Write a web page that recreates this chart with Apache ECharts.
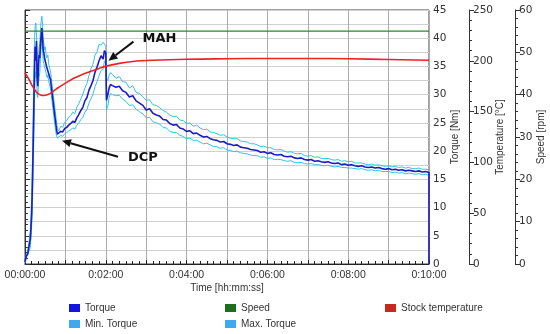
<!DOCTYPE html>
<html>
<head>
<meta charset="utf-8">
<script src="https://cdn.jsdelivr.net/npm/echarts@6/dist/echarts.min.js"></script>
<style>
html,body{margin:0;padding:0;background:#fff;}
#c{width:550px;height:334px;}
</style>
</head>
<body>
<div id="c"></div>
<script>
// ---- data (time in seconds) ----
const timeSec = [0,2,4,6,8,10,11,12,13,14,15,16,17,18,19,20,21,22,23,24,25,26,27,28,29,30,31,32,33,34,35,36,37,38,39,40,42,44,46,48,
50,53,56,59,62,65,68,71,74,77,80,83,86,89,92,95,98,101,104,107,110,113,116,118,120,
121,123,125,127,
130,135,140,145,150,155,160,165,170,175,
180,185,190,195,200,205,210,215,220,225,
230,235,240,245,250,255,260,265,270,275,
280,285,290,295,300,305,310,315,320,325,
330,335,340,345,350,355,360,365,370,375,
380,385,390,395,400,405,410,415,420,425,
430,435,440,445,450,455,460,465,470,475,
480,485,490,495,500,505,510,515,520,525,
530,535,540,545,550,555,560,565,570,575,
580,585,590,595,600,600];

const torque = [0.4,1.4,1.8,2.0,4.5,9,14,20,27,34,38.5,36,39.5,33,31.5,35,37,36.5,39,40.5,41.8,40,38,37.4,36.5,36.8,35.5,35,34.7,35.2,33.8,34,33,32.6,31.5,30.5,28.5,26.5,24.6,23.0,
23.1,23.5,23.4,24.0,24.2,24.6,24.9,25.3,25.1,25.9,26.5,27.2,27.8,28.9,29.5,30.8,31.6,32.5,34.0,34.9,36.0,36.9,36.3,37.8,37.4,
29.0,30.0,31.2,31.8,
31.6,31.3,31.5,30.7,30.4,29.6,29.8,28.9,28.5,28.1,
27.3,27.5,26.7,26.4,26.2,25.6,25.5,24.9,24.6,24.7,
24.1,23.9,23.5,23.6,23.1,23.2,22.8,22.5,22.6,22.2,
22.0,21.9,21.6,21.7,21.3,21.2,21.0,21.1,20.7,20.6,
20.5,20.3,20.2,20.1,19.8,19.9,19.6,19.7,19.4,19.3,
19.4,19.1,19.0,19.1,18.8,18.7,18.8,18.5,18.4,18.5,
18.2,18.3,18.1,18.0,18.1,17.9,17.8,17.9,17.6,17.7,
17.5,17.6,17.4,17.3,17.4,17.2,17.1,17.2,17.0,17.1,
16.9,16.8,16.9,16.7,16.8,16.6,16.7,16.5,16.6,16.5,
16.4,16.5,16.3,16.4,16.2,0];

const maxTorque = [0.6,1.7,2.1,2.4,6,12,18,25,33,39,42,42.7,41,37,34,36,38.5,39,41.5,43,43.9,42.5,40,39,38,38.5,37.5,36.5,36.2,37,35.5,35.8,34.5,34,33,32,30,28,26,24,
23.6,24.4,24.2,25.1,25.4,26.0,26.3,26.9,26.6,27.8,28.4,29.3,30.1,31.2,32.0,33.4,34.6,35.4,37.0,37.6,38.9,38.8,39.3,39.4,38.6,
33.0,32.5,33.5,33.9,
33.6,32.9,33.2,32.3,32.2,31.2,31.6,30.4,30.2,29.6,
29.0,29.1,28.2,28.1,27.7,27.2,26.9,26.4,26.1,26.2,
25.5,25.4,24.9,25.0,24.4,24.6,24.1,23.8,23.9,23.4,
23.3,23.1,22.8,22.9,22.5,22.3,22.2,22.2,21.8,21.7,
21.6,21.3,21.3,21.1,20.8,20.9,20.6,20.6,20.3,20.2,
20.3,20.0,19.8,19.9,19.6,19.5,19.6,19.2,19.1,19.2,
18.9,19.0,18.7,18.7,18.7,18.5,18.4,18.5,18.2,18.3,
18.1,18.2,17.9,17.9,17.9,17.7,17.6,17.7,17.5,17.6,
17.4,17.3,17.4,17.2,17.3,17.1,17.2,17.0,17.1,16.9,
16.9,17.0,16.8,16.8,16.7,16.7];

const minTorque = [0.2,1.2,1.6,1.8,3,7,11,16,22,28,34,33,36,30,29.5,32,33,34,36.5,38.5,40,38,36,35.5,35,35,34,33.5,33,33.5,32.5,32.5,31.5,31,30,29,27,25,23.2,22.3,
22.4,22.8,22.6,23.1,23.3,23.6,23.8,24.1,23.9,24.6,25.0,25.6,26.0,26.9,27.4,28.5,29.3,30.1,31.4,32.3,33.4,34.3,34.5,36.0,35.4,
27.3,28.0,29.5,30.2,
30.0,29.8,29.9,29.2,28.8,28.1,28.2,27.4,27.0,26.6,
25.9,26.0,25.2,25.0,24.8,24.2,24.1,23.5,23.3,23.3,
22.8,22.6,22.2,22.3,21.9,21.9,21.6,21.3,21.4,21.1,
20.8,20.8,20.5,20.6,20.2,20.1,19.9,20.0,19.7,19.6,
19.5,19.3,19.2,19.2,18.9,19.0,18.7,18.8,18.5,18.5,
18.5,18.3,18.2,18.3,18.0,18.0,18.0,17.8,17.7,17.8,
17.6,17.6,17.5,17.4,17.5,17.3,17.2,17.3,17.1,17.1,
17.0,17.0,16.9,16.8,16.9,16.7,16.6,16.7,16.5,16.6,
16.4,16.4,16.4,16.2,16.3,16.1,16.2,16.0,16.1,16.0,
15.9,16.0,15.8,15.9,15.7,15.7];

const tempTime = [0,4,8,12,16,20,24,28,33,40,48,60,73,85,97,110,122,140,160,190,240,300,360,420,480,540,600];
const temperature = [188,184,179,174,170,167.5,166.2,165.8,166.5,169,173,178,183,186.5,189.4,192.5,195,197.5,199.3,200.5,201.5,202,202.3,202.3,202,201.3,200.5];

const speedTime = [0,600];
const speed = [55,55];

const torqueTicks = [0,45,5];
const tempTicks = [0,250,50];
const speedTicks = [0,60,10];

const annotations = [
  {text:'MAH', at:[118,37.8]},
  {text:'DCP', at:[49,22.9]}
];

// ---- chart ----
const zip = (t, v) => t.map((x, i) => [x, v[i]]);
const pad = n => (n < 10 ? '0' : '') + n;
const FONT = 'DejaVu Sans';
const chart = echarts.init(document.getElementById('c'), null, {renderer:'canvas'});

const axisCommon = {
  type:'value', position:'right',
  axisLine:{show:true, lineStyle:{color:'#333', width:1}},
  axisTick:{show:true, length:5, lineStyle:{color:'#333'}},
  minorTick:{show:true, splitNumber:5, length:3, lineStyle:{color:'#333'}},
  axisLabel:{color:'#333', fontFamily:FONT, fontSize:10.5, margin:4},
  splitLine:{show:false},
  nameLocation:'middle', nameRotate:90, nameMoveOverlap:false,
  nameTextStyle:{color:'#333', fontFamily:'Liberation Sans', fontSize:10}
};

const option = {
  backgroundColor:'#fff',
  animation:false,
  grid:{left:25, right:121, top:10, bottom:70, show:true, borderColor:'#444', borderWidth:1,
    containLabel:false, outerBoundsMode:'none'},
  xAxis:{
    type:'value', min:0, max:600, interval:60,
    axisLine:{show:true, lineStyle:{color:'#222'}},
    axisTick:{show:true, inside:true, length:4, lineStyle:{color:'#222'}},
    minorTick:{show:true, splitNumber:6, length:3, lineStyle:{color:'#222'}},
    splitLine:{show:true, lineStyle:{color:'#ababab', width:1}},
    axisLabel:{color:'#333', fontFamily:'Liberation Sans', fontSize:10.5, margin:6, showMaxLabel:true, showMinLabel:true,
      formatter: v => v === 0 ? '00:00:00' : (v % 120 === 0 ? '0:' + pad(v/60) + ':00' : '')},
    name:'Time [hh:mm:ss]', nameLocation:'middle', nameGap:19, nameMoveOverlap:false,
    nameTextStyle:{color:'#333', fontFamily:'Liberation Sans', fontSize:10}
  },
  yAxis:[
    Object.assign({}, axisCommon, {min:torqueTicks[0], max:torqueTicks[1], interval:torqueTicks[2], offset:0,
      name:'Torque [Nm]', nameGap:21}),
    Object.assign({}, axisCommon, {min:tempTicks[0], max:tempTicks[1], interval:tempTicks[2], offset:40,
      name:'Temperature [°C]', nameGap:26}),
    Object.assign({}, axisCommon, {min:speedTicks[0], max:speedTicks[1], interval:speedTicks[2], offset:86,
      name:'Speed [rpm]', nameGap:21}),
    {type:'value', min:0, max:45, interval:2.5, position:'left',
      axisLine:{show:false}, axisTick:{show:false}, axisLabel:{show:false},
      splitLine:{show:true, lineStyle:{color:'#d0d0d0', width:1}}}
  ],
  legend:[
    {left:69, top:302, orient:'vertical', padding:0, itemGap:4, itemWidth:11, itemHeight:8, icon:'rect',
      textStyle:{color:'#333', fontFamily:'Liberation Sans', fontSize:10, lineHeight:12},
      data:[{name:'Torque', itemStyle:{color:'#1515e0'}}, {name:'Min. Torque', itemStyle:{color:'#40a8ee'}}]},
    {left:225, top:302, orient:'vertical', padding:0, itemGap:4, itemWidth:11, itemHeight:8, icon:'rect',
      textStyle:{color:'#333', fontFamily:'Liberation Sans', fontSize:10, lineHeight:12},
      data:[{name:'Speed', itemStyle:{color:'#1d6e1d'}}, {name:'Max. Torque', itemStyle:{color:'#40a8ee'}}]},
    {left:385, top:302, orient:'vertical', padding:0, itemGap:4, itemWidth:11, itemHeight:8, icon:'rect',
      textStyle:{color:'#333', fontFamily:'Liberation Sans', fontSize:10, lineHeight:12},
      data:[{name:'Stock temperature', itemStyle:{color:'#c62a1e'}}]}
  ],
  series:[
    {name:'Min. Torque', type:'line', yAxisIndex:0, showSymbol:false, symbol:'none',
      lineStyle:{color:'#30c4e6', width:1}, itemStyle:{color:'#30c4e6'}, data:zip(timeSec, minTorque), z:2},
    {name:'Max. Torque', type:'line', yAxisIndex:0, showSymbol:false, symbol:'none',
      lineStyle:{color:'#30c4e6', width:1}, itemStyle:{color:'#30c4e6'}, data:zip(timeSec, maxTorque), z:2},
    {name:'Torque', type:'line', yAxisIndex:0, showSymbol:false, symbol:'none',
      lineStyle:{color:'#1c1cc6', width:1.6}, itemStyle:{color:'#1c1cc6'}, data:zip(timeSec, torque), z:3},
    {name:'Stock temperature', type:'line', yAxisIndex:1, showSymbol:false, symbol:'none', smooth:0.4,
      lineStyle:{color:'#ee2222', width:1.6}, itemStyle:{color:'#ee2222'}, data:zip(tempTime, temperature), z:4},
    {name:'Speed', type:'line', yAxisIndex:2, showSymbol:false, symbol:'none',
      lineStyle:{color:'#258a25', width:1.3}, itemStyle:{color:'#258a25'}, data:zip(speedTime, speed), z:5}
  ]
};
chart.setOption(option);

// ---- annotations anchored to data points ----
function arrow(tail, tip){
  const dx = tip[0]-tail[0], dy = tip[1]-tail[1];
  const L = Math.sqrt(dx*dx+dy*dy), ux = dx/L, uy = dy/L;
  const hl = 9, hw = 4;
  const bx = tip[0]-ux*hl, by = tip[1]-uy*hl;
  return [
    {type:'line', shape:{x1:tail[0], y1:tail[1], x2:bx, y2:by}, style:{stroke:'#111', lineWidth:2}, z:100},
    {type:'polygon', shape:{points:[tip, [bx-uy*hw, by+ux*hw], [bx+uy*hw, by-ux*hw]]}, style:{fill:'#111'}, z:100}
  ];
}
const pMAH = chart.convertToPixel({xAxisIndex:0, yAxisIndex:0}, annotations[0].at);
const pDCP = chart.convertToPixel({xAxisIndex:0, yAxisIndex:0}, annotations[1].at);
const els = [];
els.push(...arrow([pMAH[0]+29, pMAH[1]-9], [pMAH[0]+4, pMAH[1]+10]));
els.push({type:'text', left:pMAH[0]+38, top:pMAH[1]-19, z:100,
  style:{text:annotations[0].text, fill:'#111', font:'bold 13px "DejaVu Sans"'}});
els.push(...arrow([pDCP[0]+60, pDCP[1]+22], [pDCP[0]+4, pDCP[1]+6]));
els.push({type:'text', left:pDCP[0]+70, top:pDCP[1]+16, z:100,
  style:{text:annotations[1].text, fill:'#111', font:'bold 13px "DejaVu Sans"'}});
chart.setOption({graphic:els});
</script>
</body>
</html>
